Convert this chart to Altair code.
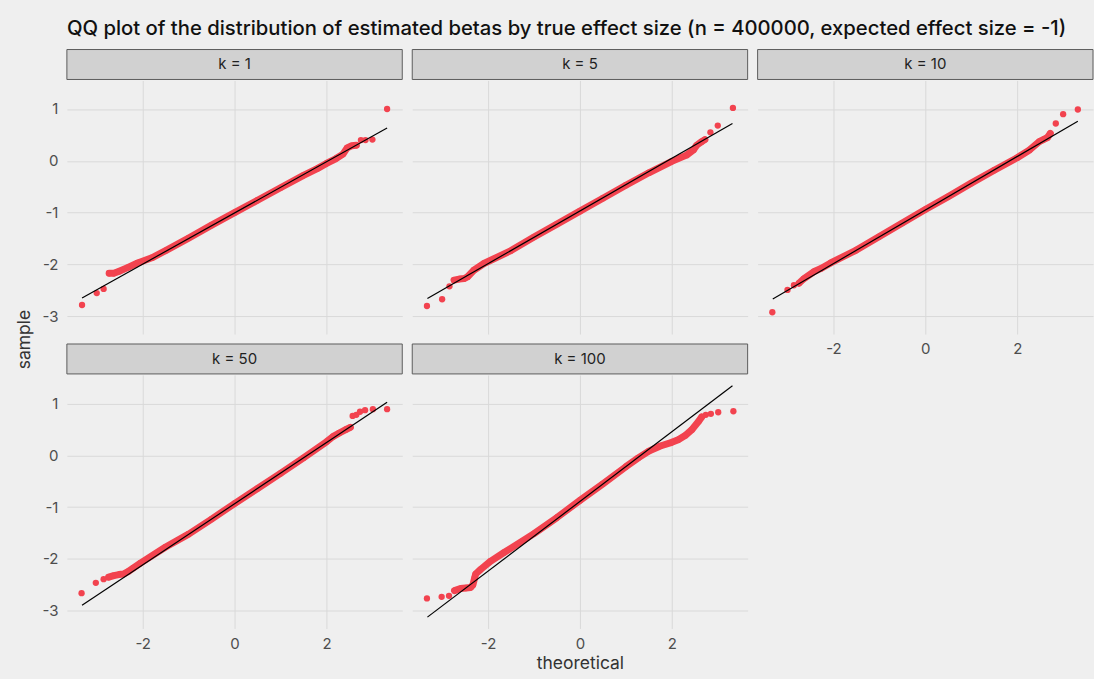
import altair as alt
import pandas as pd

FONT = "Inter"
POINT_RED = "#f2434f"

TITLE = ("QQ plot of the distribution of estimated betas by true effect size "
         "(n = 400000, expected effect size = -1)")
panel_labels = ["k = 1", "k = 5", "k = 10", "k = 50", "k = 100"]

# Runs of overlapping sample quantiles: theoretical vs. sample
k1_band_x = [-2.73, -2.63, -2.51, -2.33, -2.11, -1.8, -1.5, -1.0, -0.5, 0.0, 0.5, 1.0, 1.5, 1.8, 2.0, 2.2, 2.36, 2.45, 2.55, 2.65]
k1_band_y = [-2.17, -2.17, -2.13, -2.06, -1.97, -1.87, -1.73, -1.49, -1.24, -1.0, -0.76, -0.52, -0.28, -0.15, -0.05, 0.04, 0.13, 0.25, 0.29, 0.30]
k5_band_x = [-2.74, -2.63, -2.52, -2.45, -2.31, -2.09, -1.5, -1.0, -0.5, 0.0, 0.5, 1.0, 1.5, 2.0, 2.32, 2.47, 2.54, 2.65, 2.72]
k5_band_y = [-2.30, -2.28, -2.27, -2.24, -2.11, -1.98, -1.73, -1.47, -1.22, -0.97, -0.72, -0.47, -0.23, -0.01, 0.11, 0.21, 0.30, 0.37, 0.41]
k10_band_x = [-2.75, -2.64, -2.43, -2.28, -2.06, -1.5, -1.0, -0.5, 0.0, 0.5, 1.0, 1.5, 2.0, 2.27, 2.48, 2.59, 2.66, 2.72]
k10_band_y = [-2.36, -2.27, -2.14, -2.08, -1.97, -1.72, -1.46, -1.20, -0.94, -0.69, -0.43, -0.18, 0.06, 0.21, 0.37, 0.42, 0.45, 0.53]
k50_band_x = [-2.74, -2.63, -2.52, -2.42, -2.31, -2.20, -2.05, -1.5, -1.0, -0.5, 0.0, 0.5, 1.0, 1.5, 2.0, 2.14, 2.28, 2.43, 2.52]
k50_band_y = [-2.35, -2.32, -2.30, -2.29, -2.24, -2.17, -2.08, -1.77, -1.52, -1.23, -0.93, -0.64, -0.35, -0.05, 0.26, 0.36, 0.43, 0.50, 0.54]
k100_band_x = [-2.73, -2.60, -2.48, -2.38, -2.33, -2.29, -2.27, -2.16, -1.94, -1.66, -1.0, -0.5, 0.0, 0.5, 1.0, 1.27, 1.5, 1.75, 2.0, 2.14, 2.29, 2.43, 2.58, 2.65]
k100_band_y = [-2.61, -2.57, -2.56, -2.55, -2.50, -2.36, -2.29, -2.20, -2.04, -1.88, -1.51, -1.20, -0.87, -0.55, -0.22, -0.05, 0.08, 0.18, 0.25, 0.30, 0.38, 0.49, 0.65, 0.74]

# Isolated quantiles out in the tails
k1_tail_x = [-3.32, -3.00, -2.85, 2.75, 2.85, 3.00, 3.32]
k1_tail_y = [-2.78, -2.55, -2.47, 0.40, 0.40, 0.41, 1.00]
k5_tail_x = [-3.33, -3.00, -2.84, 2.84, 3.00, 3.33]
k5_tail_y = [-2.80, -2.67, -2.42, 0.55, 0.68, 1.02]
k10_tail_x = [-3.33, -3.00, -2.86, 2.84, 3.00, 3.32]
k10_tail_y = [-2.92, -2.49, -2.40, 0.72, 0.90, 0.99]
k50_tail_x = [-3.33, -3.02, -2.85, 2.57, 2.65, 2.73, 2.84, 3.01, 3.32]
k50_tail_y = [-2.66, -2.46, -2.39, 0.76, 0.78, 0.84, 0.87, 0.89, 0.89]
k100_tail_x = [-3.33, -3.01, -2.85, 2.74, 2.85, 3.01, 3.34]
k100_tail_y = [-2.76, -2.73, -2.71, 0.78, 0.80, 0.83, 0.85]

# Reference (qq) line end points
line_x = [-3.32, 3.32]
k1_line_y = [-2.645, 0.635]
k5_line_y = [-2.654, 0.720]
k10_line_y = [-2.665, 0.765]
k50_line_y = [-2.894, 1.024]
k100_line_y = [-3.121, 1.341]

x_ticks = [-2, 0, 2]
y_ticks = [-3, -2, -1, 0, 1]
x_domain = [-3.65, 3.65]
y_domain = [-3.34, 1.55]

W = 336
H = 254

panels = [
    (panel_labels[0], k1_band_x, k1_band_y, k1_tail_x, k1_tail_y, k1_line_y),
    (panel_labels[1], k5_band_x, k5_band_y, k5_tail_x, k5_tail_y, k5_line_y),
    (panel_labels[2], k10_band_x, k10_band_y, k10_tail_x, k10_tail_y, k10_line_y),
    (panel_labels[3], k50_band_x, k50_band_y, k50_tail_x, k50_tail_y, k50_line_y),
    (panel_labels[4], k100_band_x, k100_band_y, k100_tail_x, k100_tail_y, k100_line_y),
]


def make_panel(spec, show_x, show_y, x_title=None, y_title=None):
    label, bx, by, tx, ty, ly = spec
    band = pd.DataFrame({"theoretical": bx, "sample": by})
    pts = pd.DataFrame({"theoretical": bx + tx, "sample": by + ty})
    ref = pd.DataFrame({"theoretical": line_x, "sample": ly})
    strip_df = pd.DataFrame({"k": [label]})

    x_axis_kw = dict(values=x_ticks, labels=show_x, ticks=False, domain=False,
                     grid=True, labelPadding=8, labelExpr="toString(datum.value)")
    if x_title:
        x_axis_kw.update(title=x_title, titlePadding=3)
    else:
        x_axis_kw.update(title=None)
    y_axis_kw = dict(values=y_ticks, labels=show_y, ticks=False, domain=False,
                     grid=True, labelPadding=9, labelExpr="toString(datum.value)")
    if y_title:
        y_axis_kw.update(title=y_title, titleY=259, titlePadding=8)
    else:
        y_axis_kw.update(title=None)

    X = alt.X("theoretical:Q", scale=alt.Scale(domain=x_domain, nice=False, zero=False),
              axis=alt.Axis(**x_axis_kw))
    Y = alt.Y("sample:Q", scale=alt.Scale(domain=y_domain, nice=False, zero=False),
              axis=alt.Axis(**y_axis_kw))

    band_layer = alt.Chart(band).mark_line(
        color=POINT_RED, strokeWidth=7, strokeCap="round", strokeJoin="round"
    ).encode(x=X, y=Y, order="theoretical:Q")
    pts_layer = alt.Chart(pts).mark_circle(color=POINT_RED, size=40, opacity=1).encode(x=X, y=Y)
    ref_layer = alt.Chart(ref).mark_line(color="black", strokeWidth=1.2).encode(x=X, y=Y)

    strip_box = alt.Chart(strip_df).mark_rect(
        fill="#d1d1d1", stroke="#5c5c5c", strokeWidth=1
    ).encode(x=alt.value(0), x2=alt.value(W), y=alt.value(-31), y2=alt.value(-1))
    strip_text = alt.Chart(strip_df).mark_text(
        font=FONT, fontSize=15, color="#1f1f1f", baseline="middle", align="center"
    ).encode(x=alt.value(W / 2), y=alt.value(-16), text="k:N")

    return alt.layer(strip_box, strip_text, band_layer, pts_layer, ref_layer).properties(
        width=W, height=H
    )


p1 = make_panel(panels[0], show_x=False, show_y=True, y_title="sample")
p2 = make_panel(panels[1], show_x=False, show_y=False)
p3 = make_panel(panels[2], show_x=True, show_y=False)
p4 = make_panel(panels[3], show_x=True, show_y=True)
p5 = make_panel(panels[4], show_x=True, show_y=False, x_title="theoretical")

chart = alt.concat(
    p1, p2, p3, p4, p5, columns=3, spacing={"row": 41, "column": 10}, bounds="flush"
).properties(
    title=alt.TitleParams(TITLE, anchor="start", frame="group", offset=10),
    background="#efefef",
    padding={"left": 16, "top": 18, "right": 0, "bottom": 6},
).configure_view(
    strokeWidth=0
).configure_axis(
    gridColor="#d9d9d9",
    gridWidth=1,
    labelColor="#4d4d4d",
    labelFont=FONT,
    labelFontSize=15,
    titleFont=FONT,
    titleFontSize=17.5,
    titleFontWeight="normal",
    titleColor="#333333",
).configure_title(
    font=FONT,
    fontSize=20.3,
    fontWeight=500,
    color="#111111",
)

chart.save("out.html", embed_options={"renderer": "svg", "actions": False})
